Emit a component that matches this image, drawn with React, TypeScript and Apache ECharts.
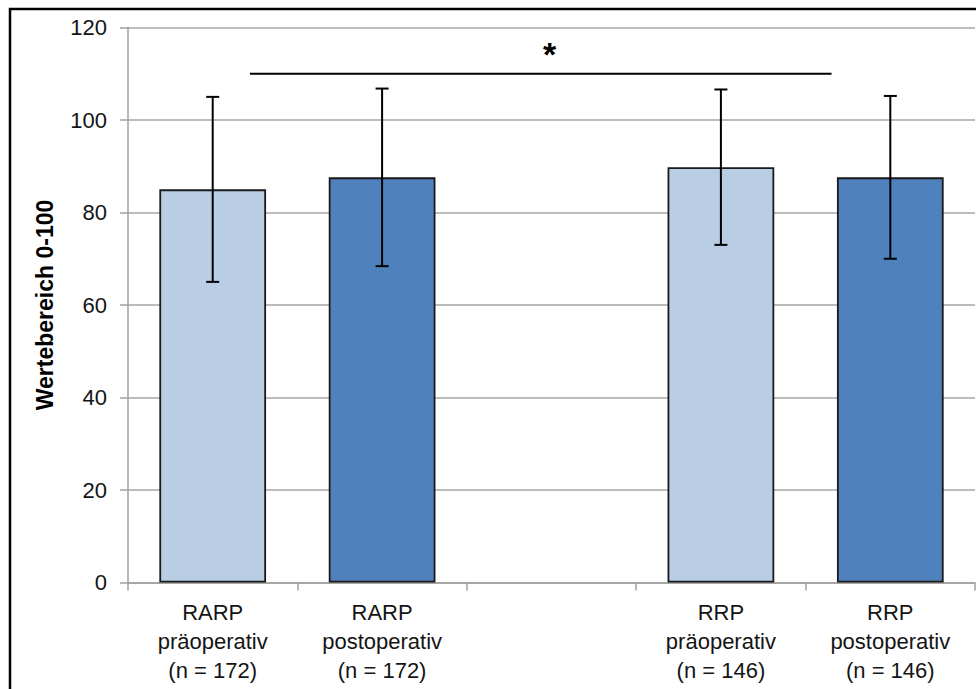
import React, { useEffect, useRef } from "react";
import * as echarts from "echarts";

const categories = [
  "RARP\npräoperativ\n(n = 172)",
  "RARP\npostoperativ\n(n = 172)",
  "",
  "RRP\npräoperativ\n(n = 146)",
  "RRP\npostoperativ\n(n = 146)",
];
const means: (number | null)[] = [85, 87.6, null, 89.8, 87.6];
const sds: (number | null)[] = [20, 19.2, null, 16.8, 17.6];
const barColors = ["#B9CDE5", "#4F81BD", "#B9CDE5", "#B9CDE5", "#4F81BD"];
const yTicks = { min: 0, max: 120, interval: 20 };
const significance = { from: 0, to: 4, mid: 2, value: 110, label: "*" };

const FONT = "'Liberation Sans', Arial, sans-serif";

export default function App() {
  const ref = useRef<HTMLDivElement>(null);
  useEffect(() => {
    if (!ref.current) return;
    const chart = echarts.init(ref.current, null, { renderer: "svg" });

    const barData = means.map((m, i) =>
      m == null
        ? "-"
        : { value: m, itemStyle: { color: barColors[i] } }
    );
    const errData = means
      .map((m, i) => (m == null || sds[i] == null ? null : [i, m - (sds[i] as number), m + (sds[i] as number)]))
      .filter((d) => d !== null) as number[][];

    chart.setOption({
      animation: false,
      textStyle: { fontFamily: FONT },
      graphic: [
        {
          type: "rect",
          shape: { x: 10, y: 9, width: 1000, height: 720 },
          style: { fill: "none", stroke: "#000", lineWidth: 2.5 },
          z: 100,
        },
      ],
      grid: { left: 128, right: 1, top: 27.5, bottom: 106.5, containLabel: false },
      xAxis: {
        type: "category",
        data: categories,
        boundaryGap: true,
        axisLine: { lineStyle: { color: "#a0a0a0", width: 1.5 } },
        axisTick: { show: true, length: 8, lineStyle: { color: "#a0a0a0", width: 1.5 } },
        axisLabel: {
          interval: 0,
          margin: 15,
          fontSize: 22,
          lineHeight: 29,
          color: "#141414",
          fontFamily: FONT,
          align: "center",
        },
      },
      yAxis: {
        type: "value",
        min: yTicks.min,
        max: yTicks.max,
        interval: yTicks.interval,
        name: "Wertebereich 0-100",
        nameLocation: "middle",
        nameGap: 72,
        nameTextStyle: {
          fontSize: 23,
          fontWeight: "bold",
          color: "#000",
          fontFamily: FONT,
        },
        axisLine: { show: true, lineStyle: { color: "#a0a0a0", width: 1.5 } },
        axisTick: { show: true, length: 8, lineStyle: { color: "#a0a0a0", width: 1.5 } },
        axisLabel: { margin: 21, fontSize: 22, color: "#141414", fontFamily: FONT },
        splitLine: { show: true, lineStyle: { color: "#a6a6a6", width: 1.5 } },
      },
      series: [
        {
          type: "bar",
          data: barData,
          barWidth: "63%",
          itemStyle: { borderColor: "#1a1a1a", borderWidth: 1.8 },
          z: 2,
        },
        {
          type: "custom",
          data: errData,
          z: 5,
          renderItem: (params: any, api: any) => {
            const x = api.value(0);
            const lo = api.coord([x, api.value(1)]);
            const hi = api.coord([x, api.value(2)]);
            const cap = 6.5;
            const st = { stroke: "#000", lineWidth: 2 };
            return {
              type: "group",
              children: [
                { type: "line", shape: { x1: lo[0], y1: lo[1], x2: hi[0], y2: hi[1] }, style: st },
                { type: "line", shape: { x1: lo[0] - cap, y1: lo[1], x2: lo[0] + cap, y2: lo[1] }, style: st },
                { type: "line", shape: { x1: hi[0] - cap, y1: hi[1], x2: hi[0] + cap, y2: hi[1] }, style: st },
              ],
            };
          },
        },
        {
          type: "custom",
          data: [[significance.from, significance.to, significance.value, significance.mid]],
          z: 6,
          renderItem: (params: any, api: any) => {
            const bw = api.size([1, 0])[0];
            const p0 = api.coord([api.value(0), api.value(2)]);
            const p1 = api.coord([api.value(1), api.value(2)]);
            const pm = api.coord([api.value(3), api.value(2)]);
            const x0 = p0[0] + 0.22 * bw;
            const x1 = p1[0] - 0.347 * bw;
            return {
              type: "group",
              children: [
                {
                  type: "line",
                  shape: { x1: x0, y1: p0[1], x2: x1, y2: p0[1] },
                  style: { stroke: "#000", lineWidth: 2 },
                },
                {
                  type: "text",
                  style: {
                    text: significance.label,
                    x: pm[0] - 2,
                    y: pm[1] - 20,
                    fill: "#000",
                    font: `bold 34px ${FONT}`,
                    textAlign: "center",
                    textVerticalAlign: "middle",
                  },
                },
              ],
            };
          },
        },
      ],
    });
    return () => chart.dispose();
  }, []);
  return (
    <div
      ref={ref}
      style={{ position: "absolute", left: 0, top: 0, width: 976, height: 689, background: "#fff" }}
    />
  );
}
